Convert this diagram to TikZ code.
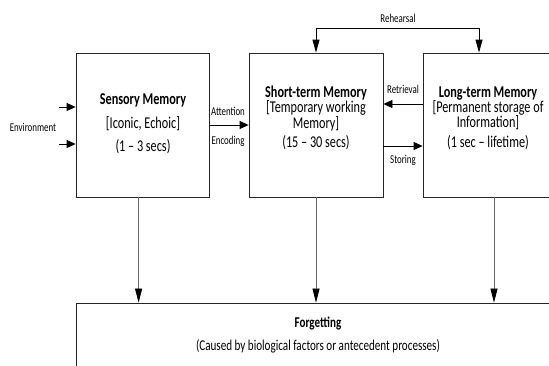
\documentclass[tikz,border=0pt]{standalone}
\usepackage{fontspec}
\setmainfont{Carlito}[FakeStretch=0.74]
\usetikzlibrary{arrows.meta}
\begin{document}
\begin{tikzpicture}[x=1pt,y=-1pt,
  box/.style={draw=black!85,line width=0.8pt,inner sep=0pt},
  boxtext/.style={align=center,font=\fontsize{16.5}{15.3}\selectfont},
  lbl/.style={font=\fontsize{12}{13}\selectfont},
  harrow/.style={line width=0.8pt,-{Triangle[length=9pt,width=8pt]}},
  varrow/.style={draw=black!60,line width=0.7pt,-{Triangle[length=14pt,width=7pt,color=black]}},
  rharrow/.style={line width=0.8pt,{Triangle[length=13pt,width=7pt]}-{Triangle[length=13pt,width=7pt]}}]
\useasboundingbox (0,0) rectangle (549,365);
\clip (0,0) rectangle (549,365);

% memory stores
\node[box,minimum width=133pt,minimum height=144pt] (sens) at (142.5,125) {};
\node[box,minimum width=134pt,minimum height=144pt] (stm) at (316,125) {};
\node[box,minimum width=131pt,minimum height=144pt] (ltm) at (488.5,125) {};
\node[box,minimum width=484pt,minimum height=90pt] (forget) at (318,348) {};

% box texts
\node[boxtext,font=\fontsize{16.5}{23.5}\selectfont] (senstxt) at (143,124)
  {\textbf{Sensory Memory}\\{[Iconic, Echoic]}\\(1 – 3 secs)};
\node[boxtext] (stmtxt) at (316,118)
  {\textbf{Short-term Memory}\\{[Temporary working}\\Memory]\\[4pt](15 – 30 secs)};
\node[boxtext] (ltmtxt) at (488,118)
  {\textbf{Long-term Memory}\\{[Permanent storage of}\\Information]\\[4pt](1 sec – lifetime)};
\node[align=center,font=\fontsize{15}{23.5}\selectfont] (fgtxt) at (318,335)
  {\textbf{Forgetting}\\(Caused by biological factors or antecedent processes)};

% environment input
\node[lbl] (env) at (33,127) {Environment};
\coordinate (e1) at (59,107);
\coordinate (e2) at (59,144);
\draw[harrow] (e1) -- (e1 -| sens.west);
\draw[harrow] (e2) -- (e2 -| sens.west);

% sensory -> short-term
\draw[harrow] (sens.east) -- (stm.west);
\node[lbl] (att) at (228,111) {Attention};
\node[lbl] (enc) at (228,141) {Encoding};

% retrieval and storing
\draw[harrow] (ltm.west |- 0,104) -- (stm.east |- 0,104);
\draw[harrow] (stm.east |- 0,146) -- (ltm.west |- 0,146);
\node[lbl] (ret) at (403,89) {Retrieval};
\node[lbl] (sto) at (403,160) {Storing};

% rehearsal loop
\coordinate (rl) at (316,28);
\coordinate (rr) at (479,28);
\draw[rharrow] (stm.north) -- (rl) -- (rr) -- (rr |- ltm.north);
\node[lbl] (reh) at (398,18) {Rehearsal};

% forgetting
\draw[varrow] (138.6,0 |- sens.south) -- (138.6,0 |- forget.north);
\draw[varrow] (stm.south) -- (stm.south |- forget.north);
\draw[varrow] (494,0 |- ltm.south) -- (494,0 |- forget.north);
\end{tikzpicture}
\end{document}
